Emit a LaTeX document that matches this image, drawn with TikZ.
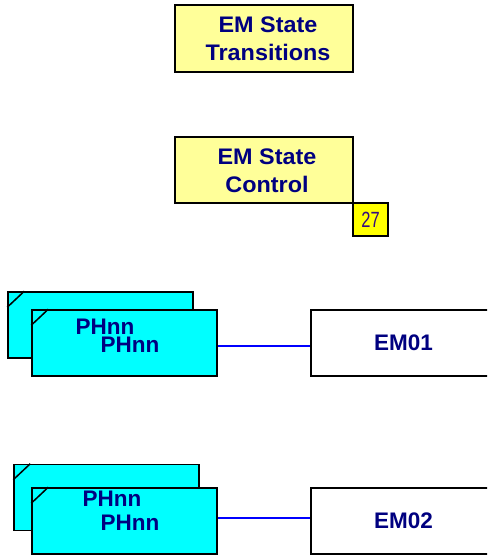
\documentclass[tikz,border=0pt]{standalone}
\usepackage{fontspec}
\setmainfont{Liberation Sans}
\newfontfamily\narrowfont[FakeStretch=0.75]{Liberation Sans}
\newfontfamily\widefont[FakeStretch=1.04]{Liberation Sans}
\definecolor{navytext}{HTML}{000080}
\definecolor{paleyellow}{HTML}{FFFF99}
\definecolor{brightyellow}{HTML}{FFFF00}
\definecolor{numtext}{HTML}{330A80}
\definecolor{cyanfill}{HTML}{00FFFF}
\definecolor{linkblue}{HTML}{0000FF}
\tikzset{
  boxbase/.style={draw=black, line width=1.5pt, rectangle, inner sep=0pt},
  titlebox/.style={boxbase, fill=paleyellow, minimum width=178pt, minimum height=66pt},
  titletext/.style={inner sep=0pt, font=\widefont\fontsize{22.5}{28}\selectfont\bfseries, text=navytext, align=center},
  numbox/.style={boxbase, fill=brightyellow, minimum width=35pt, minimum height=33pt,
     font=\narrowfont\fontsize{22}{24}\selectfont, text=numtext},
  phbox/.style={boxbase, fill=cyanfill, minimum width=185pt, minimum height=66pt},
  embox/.style={boxbase, fill=white, minimum width=185pt, minimum height=66pt,
     font=\fontsize{22.5}{27}\selectfont\bfseries, text=navytext},
  phtext/.style={inner sep=0pt, font=\fontsize{22.5}{27}\selectfont\bfseries, text=navytext},
  corner/.style={draw=black, line width=1.5pt},
  link/.style={draw=linkblue, line width=1.2pt}
}
\begin{document}
\begin{tikzpicture}[x=1pt, y=-1pt]
\clip (0,0) rectangle (487,556);
\fill[white] (0,0) rectangle (487,556);

\node[titlebox, minimum height=67pt] (trans) at (264,38.5) {};
\node[titletext] (transt) at (268,39) {EM State\\Transitions};
\node[titlebox] (ctrl) at (264,170) {};
\node[titletext] (ctrlt) at (267,170.5) {EM State\\Control};
\node[numbox] (num) at (370.5,219.5) {27};

% row 1
\node[phbox] (ph1b) at (100.5,325) {};
\draw[corner] ([yshift=-16pt]ph1b.north west) -- ([xshift=17pt]ph1b.north west);
\node[phbox] (ph1f) at (124.5,343) {};
\draw[corner] ([yshift=-16pt]ph1f.north west) -- ([xshift=17pt]ph1f.north west);
\node[phtext] (ph1bt) at (105,327) {PHnn};
\node[phtext] (ph1ft) at (130,345) {PHnn};
\node[embox] (em1) at (403.5,343) {EM01};
\draw[link] ([yshift=-3pt]ph1f.east) -- ([yshift=-3pt]em1.west);

% row 2
\node[phbox] (ph2b) at (106.5,497.5) {};
\draw[corner] ([yshift=-16pt]ph2b.north west) -- ([xshift=17pt]ph2b.north west);
\node[phbox] (ph2f) at (124.5,521) {};
\draw[corner] ([yshift=-16pt]ph2f.north west) -- ([xshift=17pt]ph2f.north west);
\node[phtext] (ph2bt) at (112,499) {PHnn};
\node[phtext] (ph2ft) at (130,523) {PHnn};
\node[embox] (em2) at (403.5,521) {EM02};
\draw[link] ([yshift=3pt]ph2f.east) -- ([yshift=3pt]em2.west);
\end{tikzpicture}
\end{document}
